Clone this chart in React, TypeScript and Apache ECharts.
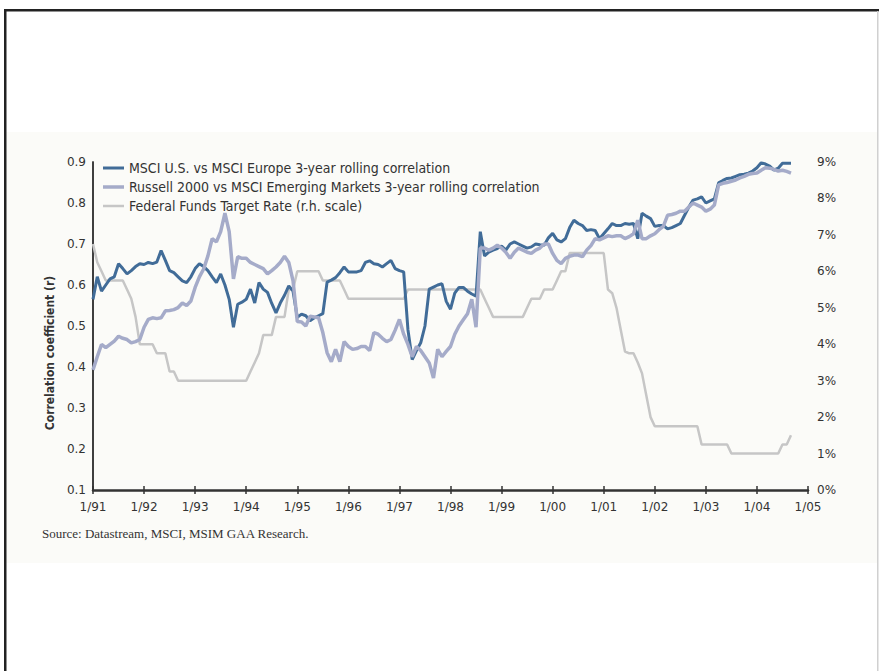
import React, { useEffect, useRef } from "react";
import * as echarts from "echarts";

const xLabels = ["1/91", "1/92", "1/93", "1/94", "1/95", "1/96", "1/97", "1/98", "1/99", "1/00", "1/01", "1/02", "1/03", "1/04", "1/05"];

const seriesNames = [
  "MSCI U.S. vs MSCI Europe 3-year rolling correlation",
  "Russell 2000 vs MSCI Emerging Markets 3-year rolling correlation",
  "Federal Funds Target Rate (r.h. scale)",
];

// monthly values, Jan 1991 .. Sep 2004
const usEurope = [
  0.565, 0.62, 0.585, 0.6, 0.615, 0.62, 0.652, 0.64, 0.627, 0.635, 0.645, 0.652,
  0.65, 0.655, 0.652, 0.656, 0.684, 0.66, 0.635, 0.63, 0.62, 0.61, 0.606, 0.62,
  0.64, 0.652, 0.645, 0.635, 0.62, 0.606, 0.627, 0.6, 0.565, 0.497, 0.553, 0.558,
  0.565, 0.59, 0.556, 0.606, 0.59, 0.582, 0.555, 0.532, 0.556, 0.575, 0.598, 0.585,
  0.521, 0.529, 0.525, 0.513, 0.52, 0.525, 0.53, 0.607, 0.612, 0.618, 0.63, 0.644,
  0.632, 0.632, 0.632, 0.635, 0.655, 0.659, 0.652, 0.65, 0.644, 0.652, 0.66, 0.64,
  0.635, 0.632, 0.491, 0.418, 0.44, 0.459, 0.5, 0.59, 0.595, 0.6, 0.603, 0.56,
  0.541, 0.58, 0.594, 0.594, 0.585, 0.578, 0.573, 0.73, 0.671, 0.68, 0.685, 0.689,
  0.695, 0.685, 0.7, 0.705, 0.7, 0.695, 0.69, 0.693, 0.7, 0.698, 0.697, 0.715,
  0.726, 0.71, 0.705, 0.713, 0.74, 0.758, 0.75, 0.745, 0.733, 0.735, 0.733, 0.713,
  0.725, 0.737, 0.75, 0.745, 0.745, 0.75, 0.748, 0.75, 0.713, 0.775, 0.768, 0.762,
  0.743, 0.745, 0.745, 0.737, 0.74, 0.745, 0.75, 0.77, 0.79, 0.807, 0.81, 0.815,
  0.8, 0.805, 0.81, 0.849, 0.855, 0.86, 0.861, 0.865, 0.869, 0.87, 0.873, 0.878,
  0.886, 0.898, 0.895, 0.89, 0.88, 0.885, 0.897, 0.897, 0.897,
];

const russellEM = [
  0.393, 0.425, 0.455, 0.447, 0.455, 0.463, 0.475, 0.47, 0.467, 0.459, 0.462, 0.467,
  0.497, 0.516, 0.52, 0.518, 0.52, 0.537, 0.538, 0.54, 0.545, 0.556, 0.55, 0.561,
  0.594, 0.62, 0.639, 0.671, 0.713, 0.705, 0.73, 0.775, 0.73, 0.615, 0.669, 0.665,
  0.665, 0.655, 0.65, 0.645, 0.64, 0.627, 0.635, 0.644, 0.655, 0.67, 0.655, 0.61,
  0.511, 0.51, 0.5, 0.524, 0.522, 0.52, 0.484, 0.435, 0.413, 0.443, 0.413, 0.462,
  0.45, 0.443, 0.445, 0.45, 0.45, 0.44, 0.484, 0.48, 0.47, 0.462, 0.467, 0.49,
  0.516, 0.48, 0.455, 0.425, 0.45, 0.44, 0.425, 0.41, 0.373, 0.443, 0.425, 0.438,
  0.45, 0.48, 0.5, 0.515, 0.53, 0.565, 0.497, 0.69, 0.69, 0.685, 0.69, 0.697,
  0.69, 0.68, 0.665, 0.68, 0.69, 0.685, 0.68, 0.677, 0.685, 0.69, 0.7, 0.7,
  0.677, 0.66, 0.652, 0.665, 0.67, 0.673, 0.673, 0.669, 0.685, 0.696, 0.713, 0.71,
  0.715, 0.72, 0.718, 0.72, 0.72, 0.713, 0.718, 0.725, 0.758, 0.713, 0.713, 0.72,
  0.725, 0.735, 0.743, 0.77, 0.772, 0.775, 0.78, 0.78, 0.79, 0.8, 0.795, 0.79,
  0.78, 0.785, 0.795, 0.844, 0.848, 0.85, 0.853, 0.856, 0.861, 0.865, 0.87, 0.872,
  0.873, 0.88, 0.886, 0.885, 0.882, 0.878, 0.88, 0.877, 0.873,
];

const fedFunds = [
  6.75, 6.25, 6.0, 5.75, 5.75, 5.75, 5.75, 5.75, 5.5, 5.25, 4.75, 4.0,
  4.0, 4.0, 4.0, 3.75, 3.75, 3.75, 3.25, 3.25, 3.0, 3.0, 3.0, 3.0,
  3.0, 3.0, 3.0, 3.0, 3.0, 3.0, 3.0, 3.0, 3.0, 3.0, 3.0, 3.0,
  3.0, 3.25, 3.5, 3.75, 4.25, 4.25, 4.25, 4.75, 4.75, 4.75, 5.5, 5.5,
  6.0, 6.0, 6.0, 6.0, 6.0, 6.0, 5.75, 5.75, 5.75, 5.75, 5.75, 5.5,
  5.25, 5.25, 5.25, 5.25, 5.25, 5.25, 5.25, 5.25, 5.25, 5.25, 5.25, 5.25,
  5.25, 5.25, 5.5, 5.5, 5.5, 5.5, 5.5, 5.5, 5.5, 5.5, 5.5, 5.5,
  5.5, 5.5, 5.5, 5.5, 5.5, 5.5, 5.5, 5.5, 5.25, 5.0, 4.75, 4.75,
  4.75, 4.75, 4.75, 4.75, 4.75, 4.75, 5.0, 5.25, 5.25, 5.25, 5.5, 5.5,
  5.5, 5.75, 6.0, 6.0, 6.5, 6.5, 6.5, 6.5, 6.5, 6.5, 6.5, 6.5,
  6.5, 5.5, 5.4, 5.0, 4.4, 3.8, 3.75, 3.75, 3.5, 3.2, 2.6, 2.0,
  1.75, 1.75, 1.75, 1.75, 1.75, 1.75, 1.75, 1.75, 1.75, 1.75, 1.75, 1.25,
  1.25, 1.25, 1.25, 1.25, 1.25, 1.25, 1.0, 1.0, 1.0, 1.0, 1.0, 1.0,
  1.0, 1.0, 1.0, 1.0, 1.0, 1.0, 1.25, 1.25, 1.5,
];

const sourceText = "Source: Datastream, MSCI, MSIM GAA Research.";

const SANS = "'DejaVu Sans', Verdana, sans-serif";
const NARROW = "'Liberation Sans Narrow', 'DejaVu Sans Condensed', 'Arial Narrow', sans-serif";
const AXIS = "#333333";

const COLORS = ["#416c98", "#a5abc9", "#c6c6c6"];
const WIDTHS = [3, 3.5, 2.5];

function buildOption() {
  const xCommon = {
    type: "value" as const,
    min: 0,
    max: (xLabels.length - 1) * 12,
    interval: 12,
    position: "bottom" as const,
    splitLine: { show: false },
  };
  return {
    animation: false,
    backgroundColor: "#ffffff",
    grid: { left: 93, right: 72, top: 162, bottom: 181 },
    legend: {
      orient: "vertical",
      left: 103,
      top: 161,
      padding: 0,
      itemWidth: 21,
      itemHeight: 14,
      itemGap: 5,
      data: seriesNames.map((name, k) => ({
        name,
        icon: `path://M0,0 L21,0 L21,${WIDTHS[k]} L0,${WIDTHS[k]} Z`,
        itemStyle: { color: COLORS[k] },
      })),
      textStyle: { fontFamily: NARROW, fontSize: 14, color: "#333" },
    },
    xAxis: [
      {
        ...xCommon,
        axisLine: { show: true, lineStyle: { color: AXIS, width: 2.5 } },
        axisTick: { show: true, length: 4, lineStyle: { color: AXIS, width: 1.5 } },
        axisLabel: {
          margin: 11,
          fontFamily: SANS,
          fontSize: 12,
          color: "#333",
          formatter: (v: number) => xLabels[Math.round(v / 12)] ?? "",
        },
      },
      {
        ...xCommon,
        axisLine: { show: false },
        axisTick: { show: true, inside: true, length: 4, lineStyle: { color: AXIS, width: 1.5 } },
        axisLabel: { show: false },
      },
    ],
    yAxis: [
      {
        type: "value",
        min: 0.1,
        max: 0.9,
        interval: 0.1,
        position: "left",
        name: "Correlation coefficient (r)",
        nameLocation: "middle",
        nameGap: 36,
        nameRotate: 90,
        nameTextStyle: {
          fontFamily: NARROW,
          fontSize: 12,
          fontWeight: "bold",
          color: "#333",
          padding: [0, 54, 0, 0],
        },
        axisLine: { show: true, lineStyle: { color: AXIS, width: 1.5 } },
        axisTick: { show: false },
        splitLine: { show: false },
        axisLabel: {
          margin: 7,
          fontFamily: SANS,
          fontSize: 12,
          color: "#333",
          formatter: (v: number) => v.toFixed(1),
        },
      },
      {
        type: "value",
        min: 0,
        max: 9,
        interval: 1,
        position: "right",
        axisLine: { show: true, lineStyle: { color: AXIS, width: 1.5 } },
        axisTick: { show: false },
        splitLine: { show: false },
        axisLabel: {
          margin: 9,
          fontFamily: SANS,
          fontSize: 12,
          color: "#333",
          formatter: (v: number) => `${v}%`,
        },
      },
    ],
    graphic: [
      { type: "rect", z: -10, shape: { x: 6, y: 132, width: 872, height: 431 }, style: { fill: "#fbfbf8" }, silent: true },
      { type: "rect", z: 10, shape: { x: 4, y: 9, width: 875, height: 2.5 }, style: { fill: "#222222" }, silent: true },
      { type: "rect", z: 10, shape: { x: 4, y: 9, width: 2.5, height: 662 }, style: { fill: "#222222" }, silent: true },
      { type: "rect", z: 10, shape: { x: 877, y: 11, width: 1.5, height: 660 }, style: { fill: "#d0d0d0" }, silent: true },
      {
        type: "text",
        x: 42,
        y: 533,
        style: {
          text: sourceText,
          fontFamily: "'Liberation Serif', 'Times New Roman', serif",
          fontSize: 13,
          fill: "#333",
          verticalAlign: "middle",
        },
      },
    ],
    series: [
      {
        name: seriesNames[2],
        type: "line",
        yAxisIndex: 1,
        symbol: "none",
        lineStyle: { color: COLORS[2], width: WIDTHS[2] },
        itemStyle: { color: COLORS[2] },
        data: fedFunds.map((v, i) => [i, v]),
        z: 2,
      },
      {
        name: seriesNames[0],
        type: "line",
        symbol: "none",
        lineStyle: { color: COLORS[0], width: WIDTHS[0] },
        itemStyle: { color: COLORS[0] },
        data: usEurope.map((v, i) => [i, v]),
        z: 3,
      },
      {
        name: seriesNames[1],
        type: "line",
        symbol: "none",
        lineStyle: { color: COLORS[1], width: WIDTHS[1] },
        itemStyle: { color: COLORS[1] },
        data: russellEM.map((v, i) => [i, v]),
        z: 4,
      },
    ],
  };
}

export default function App() {
  const ref = useRef<HTMLDivElement>(null);
  useEffect(() => {
    if (!ref.current) return;
    const chart = echarts.init(ref.current, null, { renderer: "svg" });
    chart.setOption(buildOption() as any);
    return () => chart.dispose();
  }, []);
  return (
    <div
      ref={ref}
      style={{ position: "absolute", left: 0, top: 0, width: 880, height: 671 }}
    />
  );
}
